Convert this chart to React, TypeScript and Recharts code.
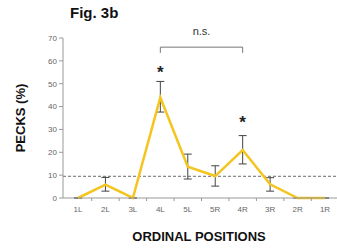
import { ComposedChart, Line, XAxis, YAxis, ErrorBar, ReferenceLine, ReferenceDot } from "recharts";

const positions = ["1L", "2L", "3L", "4L", "5L", "5R", "4R", "3R", "2R", "1R"];
const pecks = [0, 5.8, 0, 44, 13.7, 9.6, 21, 6, 0, 0];
const errLow = [0, 3, 0, 37.6, 8.3, 5.2, 14.9, 3, 0, 0];
const errHigh = [0, 9, 0, 51, 19.2, 14.1, 27.3, 8.9, 0, 0];
const yTicks = [0, 10, 20, 30, 40, 50, 60, 70];
const chanceLevel = 9.5;

const data = positions.map((p, i) => ({
  pos: p,
  pecks: pecks[i],
  err: [pecks[i] - errLow[i], errHigh[i] - pecks[i]],
}));

const font = "Arial, 'Liberation Sans', sans-serif";
const halfStep = 13.7;

// category label with a small tick mark on the left band boundary
function XTick(props: any) {
  const { x, y, payload, index } = props;
  return (
    <g>
      {index > 0 && <line x1={x - halfStep} x2={x - halfStep} y1={198} y2={201} stroke="#999" />}
      <text x={x} y={y} dy={6} textAnchor="middle" fontSize={8} fill="#666" fontFamily={font}>
        {payload.value}
      </text>
    </g>
  );
}

export default function App() {
  return (
    <div style={{ position: "absolute", left: 0, top: 0, width: 337, height: 250, fontFamily: font }}>
      <div style={{ position: "absolute", left: 70, top: 4, fontSize: 15, fontWeight: "bold", color: "#111" }}>
        Fig. 3b
      </div>
      <div
        style={{
          position: "absolute",
          left: 20,
          top: 118,
          transform: "translate(-50%, -50%) rotate(-90deg)",
          fontSize: 13,
          fontWeight: "bold",
          color: "#111",
          whiteSpace: "nowrap",
        }}
      >
        PECKS (%)
      </div>
      <div
        style={{
          position: "absolute",
          left: 199,
          top: 236,
          transform: "translate(-50%, -50%)",
          fontSize: 13,
          fontWeight: "bold",
          color: "#111",
          whiteSpace: "nowrap",
        }}
      >
        ORDINAL POSITIONS
      </div>
      <ComposedChart width={337} height={250} data={data} margin={{ top: 38, right: 0, bottom: 0, left: 0 }}>
        <XAxis
          dataKey="pos"
          height={52}
          padding={{ left: 15, right: 12 }}
          tick={<XTick />}
          tickLine={false}
          axisLine={{ stroke: "#999" }}
          tickMargin={2}
        />
        <YAxis
          domain={[0, 70]}
          ticks={yTicks}
          width={63}
          interval={0}
          tick={{ fontSize: 8, fill: "#666", fontFamily: font }}
          tickLine={{ stroke: "#999" }}
          axisLine={{ stroke: "#999" }}
          tickSize={4}
        />
        <ReferenceLine y={chanceLevel} stroke="#444" strokeDasharray="3 2" strokeWidth={0.8} />
        <ReferenceLine
          segment={[{ x: "4L", y: 66 }, { x: "4R", y: 66 }]}
          stroke="#777"
          ifOverflow="visible"
          label={{ value: "n.s.", position: "top", offset: 12, fontSize: 11, fill: "#333", fontFamily: font }}
        />
        <ReferenceLine segment={[{ x: "4L", y: 66 }, { x: "4L", y: 63.5 }]} stroke="#777" ifOverflow="visible" />
        <ReferenceLine segment={[{ x: "4R", y: 66 }, { x: "4R", y: 63.5 }]} stroke="#777" ifOverflow="visible" />
        <ReferenceDot x="4L" y={57.5} r={0} ifOverflow="visible" label={{ value: "*", position: "center", fontSize: 17, fontWeight: "bold", fill: "#222", dy: 5 }} />
        <ReferenceDot x="4R" y={35.5} r={0} ifOverflow="visible" label={{ value: "*", position: "center", fontSize: 17, fontWeight: "bold", fill: "#222", dy: 5 }} />
        <Line
          type="linear"
          dataKey="pecks"
          stroke="#F4C41F"
          strokeWidth={2.5}
          dot={false}
          isAnimationActive={false}
        >
          <ErrorBar dataKey="err" width={4} stroke="#444" strokeWidth={1} />
        </Line>
      </ComposedChart>
    </div>
  );
}
